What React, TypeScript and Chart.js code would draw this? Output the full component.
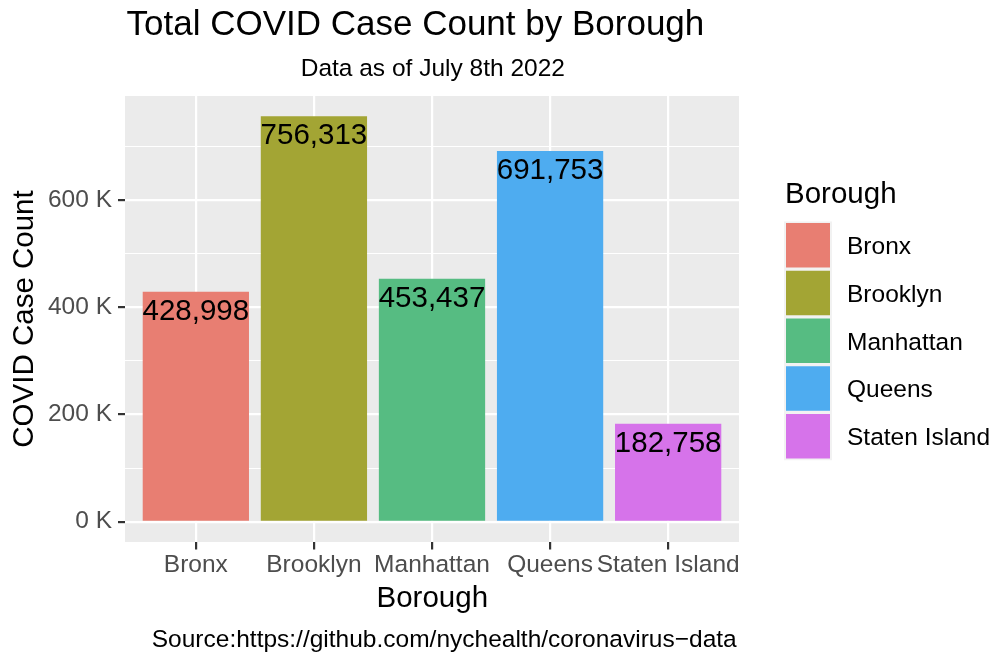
import React, { useEffect, useRef } from "react";
import { Chart, registerables } from "chart.js";

Chart.register(...registerables);

const boroughs = ["Bronx", "Brooklyn", "Manhattan", "Queens", "Staten Island"];
const caseCounts = [428998, 756313, 453437, 691753, 182758];
const barColors = ["#E87E72", "#A3A534", "#56BC82", "#4EACF0", "#D673EA"];
const yTickValues = [0, 100000, 200000, 300000, 400000, 500000, 600000, 700000];

const chartTitle = "Total COVID Case Count by Borough";
const chartSubtitle = "Data as of July 8th 2022";
const xTitle = "Borough";
const yTitle = "COVID Case Count";
const legendTitle = "Borough";
const captionText = "Source:https://github.com/nychealth/coronavirus\u2212data";

const FAMILY = '"Liberation Sans", Arial, "DejaVu Sans", sans-serif';

const isMajor = (v: number) => v % 200000 === 0;

const panelBg = {
  id: "panelBg",
  beforeDraw(chart: any) {
    const { ctx, chartArea: a } = chart;
    ctx.save();
    ctx.fillStyle = "#EBEBEB";
    ctx.fillRect(a.left, a.top, a.right - a.left, a.bottom - a.top);
    ctx.restore();
  },
};

const valueLabels = {
  id: "valueLabels",
  afterDatasetsDraw(chart: any) {
    const { ctx } = chart;
    const meta = chart.getDatasetMeta(0);
    ctx.save();
    ctx.fillStyle = "#000000";
    ctx.font = `29.5px ${FAMILY}`;
    ctx.textAlign = "center";
    ctx.textBaseline = "alphabetic";
    meta.data.forEach((bar: any, i: number) => {
      ctx.fillText(caseCounts[i].toLocaleString("en-US"), bar.x, bar.y + 28);
    });
    ctx.restore();
  },
};

const decorations = {
  id: "decorations",
  afterDraw(chart: any) {
    const { ctx } = chart;
    ctx.save();
    ctx.fillStyle = "#000000";
    ctx.textBaseline = "alphabetic";

    // title
    ctx.font = `35px ${FAMILY}`;
    ctx.textAlign = "left";
    ctx.fillText(chartTitle, 126.5, 35);

    // subtitle
    ctx.font = `24.5px ${FAMILY}`;
    ctx.textAlign = "center";
    ctx.fillText(chartSubtitle, 432.8, 75.7);

    // x axis title
    ctx.font = `29.5px ${FAMILY}`;
    ctx.fillText(xTitle, 432.3, 606.7);

    // y axis title
    ctx.save();
    ctx.translate(33.3, 319);
    ctx.rotate(-Math.PI / 2);
    ctx.fillText(yTitle, 0, 0);
    ctx.restore();

    // caption
    ctx.font = `24.5px ${FAMILY}`;
    ctx.textAlign = "right";
    ctx.fillText(captionText, 736.7, 646.7);

    // legend
    ctx.textAlign = "left";
    ctx.font = `29.5px ${FAMILY}`;
    ctx.fillText(legendTitle, 785, 203.3);
    const pitch = 47.75;
    const top0 = 221.5;
    ctx.fillStyle = "#F2F2F2";
    ctx.fillRect(784, top0, 48, pitch * boroughs.length);
    ctx.font = `24.5px ${FAMILY}`;
    boroughs.forEach((name, i) => {
      const y = top0 + 1.5 + i * pitch;
      ctx.fillStyle = barColors[i];
      ctx.fillRect(786, y, 44, 44.5);
      ctx.fillStyle = "#000000";
      ctx.fillText(name, 847, y + 22.25 + 8.8);
    });
    ctx.restore();
  },
};

export default function App() {
  const canvasRef = useRef<HTMLCanvasElement | null>(null);

  useEffect(() => {
    const canvas = canvasRef.current;
    if (!canvas) return;
    const chart = new Chart(canvas, {
      type: "bar",
      data: {
        datasets: [
          {
            label: "COVID Case Count",
            data: boroughs.map((_, i) => ({ x: i + 1, y: caseCounts[i] })),
            backgroundColor: barColors,
            borderWidth: 0,
            barPercentage: 0.9,
            categoryPercentage: 1,
          },
        ],
      },
      options: {
        animation: false,
        responsive: false,
        maintainAspectRatio: false,
        devicePixelRatio: 1,
        layout: { padding: { top: 96, right: 267, left: 0, bottom: 0 } },
        plugins: {
          legend: { display: false },
          title: { display: false },
          tooltip: { enabled: false },
        },
        scales: {
          x: {
            type: "linear",
            offset: false,
            min: 0.4,
            max: 5.6,
            afterBuildTicks: (s: any) => {
              s.ticks = boroughs.map((_, i) => ({ value: i + 1 }));
            },
            afterFit: (s: any) => {
              s.height = 116;
            },
            ticks: {
              autoSkip: false,
              maxRotation: 0,
              minRotation: 0,
              padding: 1,
              color: "#4D4D4D",
              font: { size: 24.5, family: FAMILY },
              callback: (v: any) => boroughs[Math.round(Number(v)) - 1] ?? "",
            },
            grid: {
              offset: false,
              color: "#FFFFFF",
              lineWidth: 2.2,
              drawTicks: true,
              tickLength: 7.5,
              tickColor: "#333333",
              tickWidth: 2.2,
            },
            border: { display: false },
          },
          y: {
            type: "linear",
            min: -37816,
            max: 794129,
            afterBuildTicks: (s: any) => {
              s.ticks = yTickValues.map((v) => ({ value: v }));
            },
            afterFit: (s: any) => {
              s.width = 125;
            },
            ticks: {
              autoSkip: false,
              padding: 6,
              color: "#4D4D4D",
              font: { size: 24.5, family: FAMILY },
              callback: (v: any) => (isMajor(Number(v)) ? `${Number(v) / 1000} K` : ""),
            },
            grid: {
              color: "#FFFFFF",
              lineWidth: (c: any) => (c.tick && isMajor(c.tick.value) ? 2.2 : 1.1),
              drawTicks: true,
              tickLength: 7,
              tickColor: (c: any) =>
                c.tick && isMajor(c.tick.value) ? "#333333" : "rgba(0,0,0,0)",
              tickWidth: 2.2,
            },
            border: { display: false },
          },
        },
      },
      plugins: [panelBg, valueLabels, decorations],
    } as any);
    return () => chart.destroy();
  }, []);

  return (
    <div
      style={{
        position: "fixed",
        left: 0,
        top: 0,
        width: 1006,
        height: 658,
        background: "#FFFFFF",
      }}
    >
      <canvas ref={canvasRef} width={1006} height={658} />
    </div>
  );
}
